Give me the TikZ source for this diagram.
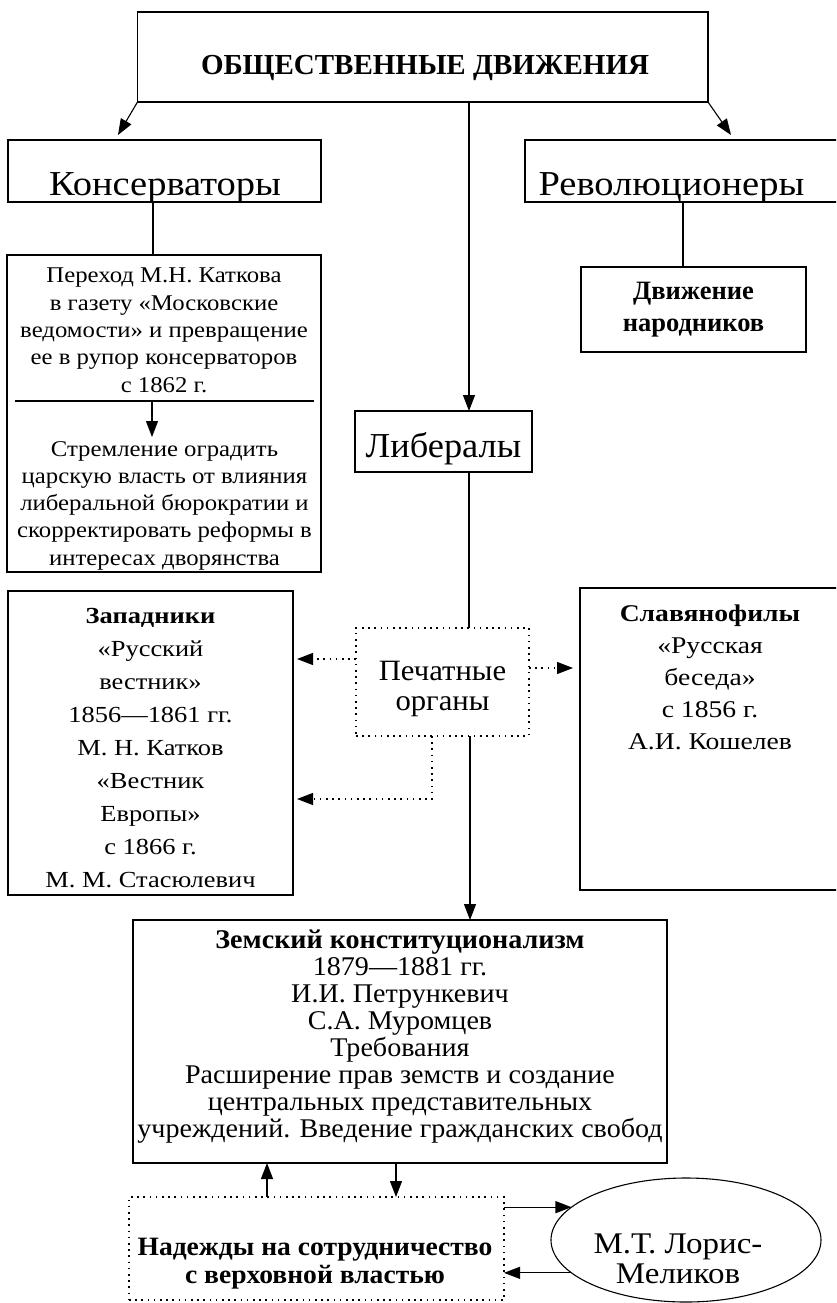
\documentclass[tikz,border=0pt]{standalone}
\usepackage{fontspec}
\setmainfont{Liberation Serif}
\newfontfamily\wideA[FakeStretch=1.15]{Liberation Serif}
\newfontfamily\wideB[FakeStretch=1.1]{Liberation Serif}
\newfontfamily\wideC[FakeStretch=1.04]{Liberation Serif}
\usetikzlibrary{arrows.meta,shapes.geometric,calc}
\tikzset{
  box/.style={draw, line width=1.1pt, inner sep=0pt, outer sep=0pt},
  dotbox/.style={draw, line width=1.1pt, dash pattern=on 1.6pt off 4.6pt, inner sep=0pt, outer sep=0pt},
  conn/.style={line width=1.1pt},
  arr/.style={line width=1.1pt, -{Triangle[length=16pt,width=12pt]}},
  darr/.style={arr, dash pattern=on 1.6pt off 4.6pt},
  txt/.style={inner sep=0pt, align=center, anchor=base},
}
\begin{document}
\begin{tikzpicture}[x=1pt,y=-1pt]
\useasboundingbox (0,0) rectangle (836,1303);
\clip (0,0) rectangle (836,1303);
% boxes
\node[box, minimum width=570.5, minimum height=90] (top) at (422.75,57) {};
\node[box, minimum width=313, minimum height=62] (kons) at (164.5,171) {};
\node[box, minimum width=315, minimum height=62] (revo) at (682.5,171) {};
\node[box, minimum width=314, minimum height=317] (katk) at (164,413.5) {};
\node[box, minimum width=225, minimum height=85] (dvizh) at (693.5,309.5) {};
\node[box, minimum width=177, minimum height=61] (libs) at (443.5,441.5) {};
\node[box, minimum width=285, minimum height=304] (zap) at (150.5,743) {};
\node[dotbox, minimum width=173, minimum height=108] (pech) at (442.5,682) {};
\node[box, minimum width=260, minimum height=302] (slav) at (710,739) {};
\node[box, minimum width=534, minimum height=243] (zem) at (400,1041.5) {};
\node[dotbox, minimum width=375, minimum height=103] (nad) at (316.5,1248.5) {};
\node[box, ellipse, minimum width=270, minimum height=124] (ell) at (686,1240) {};
% texts (base anchor = baseline of the last line)
\node[txt, font=\bfseries\fontsize{29}{34}\selectfont] (topT) at (425,75) {ОБЩЕСТВЕННЫЕ ДВИЖЕНИЯ};
\node[txt, font=\wideB\fontsize{35}{40}\selectfont] (konsT) at (165,195) {Консерваторы};
\node[txt, font=\wideB\fontsize{35}{40}\selectfont] (revoT) at (671.5,195) {Революционеры};
\node[txt, font=\wideC\fontsize{35}{40}\selectfont] (libsT) at (443.5,457) {Либералы};
\node[txt, font=\bfseries\fontsize{26.5}{32}\selectfont] (dvizhT) at (693.5,331) {Движение\\народников};
\node[txt, font=\wideB\fontsize{22.5}{27.4}\selectfont] (katkT) at (164,392.3) {Переход М.Н. Каткова\\в газету «Московские\\ведомости» и превращение\\ее в рупор консерваторов\\с 1862 г.};
\node[txt, font=\wideB\fontsize{22.5}{27.3}\selectfont] (stremT) at (164.5,565.2) {Стремление оградить\\царскую власть от влияния\\либеральной бюрократии и\\скорректировать реформы в\\интересах дворянства};
\node[txt, font=\wideA\fontsize{23}{33}\selectfont] (zapT) at (150.5,887) {{\bfseries Западники}\\«Русский\\вестник»\\1856—1861 гг.\\М. Н. Катков\\«Вестник\\Европы»\\с 1866 г.\\М. М. Стасюлевич};
\node[txt, font=\wideC\fontsize{29.5}{30}\selectfont] (pechT) at (442.5,710) {Печатные\\органы};
\node[txt, font=\wideA\fontsize{24}{32.2}\selectfont] (slavT) at (710,749.8) {{\bfseries Славянофилы}\\«Русская\\беседа»\\с 1856 г.\\А.И. Кошелев};
\node[txt, font=\wideC\fontsize{27}{27.1}\selectfont] (zemT) at (400,1137.7) {{\bfseries Земский конституционализм}\\1879—1881 гг.\\И.И. Петрункевич\\С.А. Муромцев\\Требования\\Расширение прав земств и создание\\центральных представительных\\учреждений. Введение гражданских свобод};
\node[txt, font=\wideC\bfseries\fontsize{26.5}{28}\selectfont] (nadT) at (315,1283) {Надежды на сотрудничество\\с верховной властью};
\node[txt, font=\wideB\fontsize{30}{30}\selectfont] (ellT) at (678,1283) {М.Т. Лорис-\\Меликов};
% connectors
\draw[arr] (top.south west) -- ([shift={(110,-5)}]kons.north west);
\draw[arr] (top.south east) -- ([shift={(206,-5)}]revo.north west);
\draw[arr] (top.south -| 469,0) -- (libs.north -| 469,0);
\draw[conn] (kons.south -| 153,0) -- (katk.north -| 153,0);
\draw[conn] (revo.south -| 683,0) -- (dvizh.north -| 683,0);
\coordinate (sepL) at (15,401);
\coordinate (sepR) at (314,401);
\draw[conn] (sepL) -- (sepR);
\coordinate (sepA) at (152,401);
\draw[arr] (sepA) -- ++(0,36);
\draw[conn] (libs.south -| 469,0) -- (pech.north -| 469,0);
\draw[arr] (pech.south -| 470,0) -- (zem.north -| 470,0);
\draw[darr] (pech.west |- 0,659) -- ([xshift=4pt]zap.east |- 0,659);
\draw[darr] (pech.east |- 0,668) -- ([xshift=-7pt]slav.west |- 0,668);
\draw[darr] (pech.south -| 432,0) |- ([xshift=4pt]zap.east |- 0,799);
\draw[arr] (zem.south -| 396,0) -- (nad.north -| 396,0);
\draw[arr] (nad.north -| 267,0) -- (zem.south -| 267,0);
\draw[arr] (nad.east |- ell.164) -- (ell.164);
\draw[arr] (ell.196) -- (nad.east |- ell.196);
\end{tikzpicture}
\end{document}
